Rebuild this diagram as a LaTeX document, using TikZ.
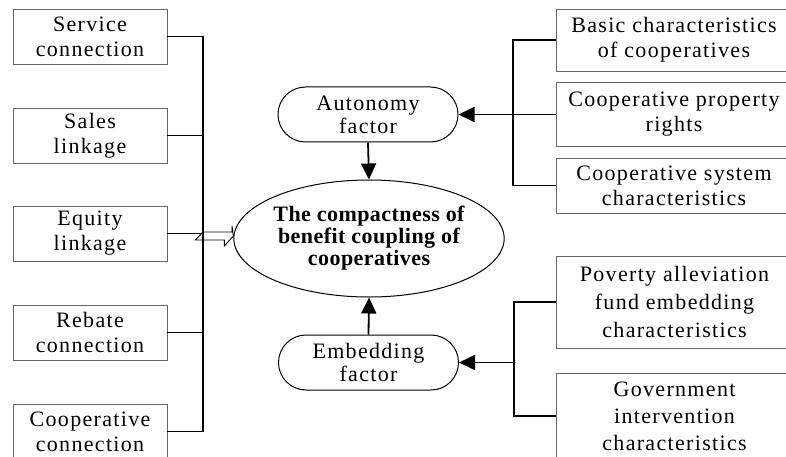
\documentclass[tikz,border=0pt]{standalone}
\usepackage{fontspec}
\setmainfont[LetterSpace=6,BoldFeatures={LetterSpace=2}]{Liberation Serif}
\usetikzlibrary{arrows.meta,shapes.misc,shapes.geometric}
\begin{document}
\begin{tikzpicture}[x=1pt,y=-1pt,
  box/.style={draw=black!60, line width=0.9pt, rectangle, inner sep=0pt, align=center},
  lbox/.style={box, minimum width=154pt, minimum height=55pt, font=\fontsize{22}{25}\selectfont},
  rbox/.style={box, minimum width=236pt, font=\fontsize{22}{25}\selectfont},
  rbox3/.style={box, minimum width=236pt, font=\fontsize{22}{28}\selectfont},
  rbox3b/.style={box, minimum width=236pt, font=\fontsize{22}{27}\selectfont},
  factor/.style={draw, line width=1pt, rounded rectangle, minimum width=180pt, minimum height=55pt, inner sep=0pt, align=center, font=\fontsize{22}{23}\selectfont},
  core/.style={draw, line width=1pt, ellipse, minimum width=256pt, minimum height=117pt, inner sep=0pt, align=center, font=\fontsize{22}{22}\selectfont\bfseries},
  conn/.style={line width=1.8pt},
  arr/.style={line width=1.8pt, -{Triangle[length=16pt,width=15pt]}},
  hollow/.style={draw=black, line width=0.9pt, fill=white}]
\clip (0,0) rectangle (786,457);
% left boxes
\node[lbox] (svc) at (90,36.5) {Service\\connection};
\node[lbox] (sal) at (90,135.5) {Sales\\linkage};
\node[lbox] (equ) at (90,233.5) {Equity\\linkage};
\node[lbox] (reb) at (90,332.5) {Rebate\\connection};
\node[lbox] (coo) at (90,431.5) {Cooperative\\connection};
% right boxes
\node[rbox, minimum height=62pt] (bas) at (674,40) {Basic characteristics\\of cooperatives};
\node[rbox, minimum height=64pt] (pro) at (674,114.5) {Cooperative property\\rights};
\node[rbox, minimum height=55pt] (sys) at (674,185.5) {Cooperative system\\characteristics};
\node[rbox3, minimum height=92pt] (pov) at (674.5,302) {Poverty alleviation\\fund embedding\\characteristics};
\node[rbox3b, minimum height=86pt] (gov) at (674.5,416) {Government\\intervention\\characteristics};
% center
\node[core] (core) at (369,238.5) {The compactness of\\benefit coupling of\\cooperatives};
\node[factor] (aut) at (368,114.5) {Autonomy\\factor};
\node[factor] (emb) at (368.5,362.5) {Embedding\\factor};
% trunk coordinates
\coordinate (ltx) at (203,0);
\coordinate (rtx) at (513,0);
\coordinate (rbx) at (514,0);
\coordinate (hs) at (203,236);
% hollow arrow
\draw[hollow] (hs) ++(0,-4) -- ++(29,0) -- ++(0,-6) -- (core.west |- hs) -- ++(-9,10) -- ++(0,-6) -- ++(-29,0) -- cycle;
% left connectors
\draw[conn] (svc.east) -- (svc.east -| ltx) -- (coo.east -| ltx) -- (coo.east);
\foreach \n in {sal,equ,reb} \draw[conn] (\n.east) -- (\n.east -| ltx);
% right top connectors
\draw[conn] (bas.west) -- (bas.west -| rtx) -- (sys.west -| rtx) -- (sys.west);
\draw[conn] (pro.west) -- (pro.west -| rtx);
\draw[arr] (rtx |- aut.east) -- (aut.east);
% right bottom connectors
\draw[conn] (pov.west) -- (pov.west -| rbx) -- (gov.west -| rbx) -- (gov.west);
\draw[arr] (rbx |- emb.east) -- (emb.east);
% vertical arrows
\draw[arr] (aut.south) -- (core.north);
\draw[arr] (emb.north) -- (core.south);
\end{tikzpicture}
\end{document}
